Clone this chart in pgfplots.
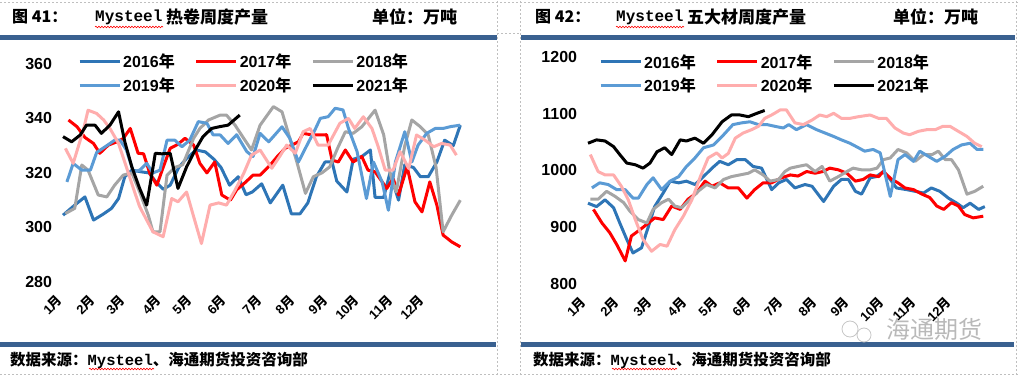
\documentclass[border=0pt]{standalone}
\usepackage{pgfplots}
\pgfplotsset{compat=1.18}
\usepackage{fontspec}
\setmainfont{Liberation Sans}
\newfontfamily\cjk{Noto Sans CJK SC}
\newfontfamily\monob{Liberation Mono}
\usetikzlibrary{decorations.pathmorphing}
\definecolor{c16}{HTML}{2E75B6}
\definecolor{c17}{HTML}{FF0000}
\definecolor{c18}{HTML}{A5A5A5}
\definecolor{c19}{HTML}{5B9BD5}
\definecolor{c20}{HTML}{FFADAD}
\definecolor{c21}{HTML}{000000}
\definecolor{barblue}{HTML}{3A6190}
\definecolor{gridgray}{HTML}{BFBFBF}
\pgfplotsset{
  ser/.style={line width=3pt, line join=round, no markers},
  chartbase/.style={
    scale only axis,
    axis line style={draw=none}, tick style={draw=none},
    clip=false,
    yticklabel style={font=\bfseries\fontsize{16}{18}\selectfont, anchor=east, inner sep=0pt, xshift=-3pt},
    xticklabel style={font=\bfseries\fontsize{13}{15}\selectfont, xshift=-2pt, yshift=-16pt, rotate=45, anchor=east, inner sep=0pt},
    legend columns=3,
    legend cell align=left,
    legend image code/.code={\draw[##1, line width=3pt] (0pt,0pt) -- (40pt,0pt);},
    legend style={draw=none, fill=none, anchor=north west, inner sep=0pt,
      font=\bfseries\fontsize{16}{18}\selectfont,
      row sep=4pt,
      nodes={inner sep=2pt},
      /tikz/every even column/.append style={column sep=18pt}},
  }
}
\begin{document}
\begin{tikzpicture}
% grid borders
\begin{scope}[gridgray, line width=0.6pt, dash pattern=on 2pt off 2pt]
\draw (0pt,373pt) -- (1019pt,373pt);
\draw (497pt,0pt) -- (497pt,375pt);
\draw (520pt,0pt) -- (520pt,375pt);
\draw (1016pt,0pt) -- (1016pt,375pt);
\draw (497pt,342pt) -- (520pt,342pt);
\draw (0pt,1pt) -- (1019pt,1pt);
\end{scope}
% header bars
\fill[barblue] (0pt,335pt) rectangle (497pt,340pt);
\fill[barblue] (521pt,335pt) rectangle (1015pt,340pt);
\fill[barblue] (0pt,28pt) rectangle (496pt,33pt);
\fill[barblue] (521pt,28pt) rectangle (1014pt,33pt);
% titles
\node[anchor=west, inner sep=0pt, font=\cjk\bfseries\fontsize{16}{18}\selectfont] at (12pt,358pt) {图 41：};
\node[anchor=west, inner sep=0pt, font=\monob\bfseries\fontsize{16}{18}\selectfont] at (95pt,358pt) {Mysteel};
\node[anchor=west, inner sep=0pt, font=\cjk\bfseries\fontsize{17}{18}\selectfont] at (166pt,358pt) {热卷周度产量};
\node[anchor=west, inner sep=0pt, font=\cjk\bfseries\fontsize{17}{18}\selectfont] at (372pt,358pt) {单位：万吨};
\node[anchor=west, inner sep=0pt, font=\cjk\bfseries\fontsize{16}{18}\selectfont] at (535pt,358pt) {图 42：};
\node[anchor=west, inner sep=0pt, font=\monob\bfseries\fontsize{16}{18}\selectfont] at (616pt,358pt) {Mysteel};
\node[anchor=west, inner sep=0pt, font=\cjk\bfseries\fontsize{17}{18}\selectfont] at (687pt,358pt) {五大材周度产量};
\node[anchor=west, inner sep=0pt, font=\cjk\bfseries\fontsize{17}{18}\selectfont] at (893pt,358pt) {单位：万吨};
\draw[red, line width=0.6pt, decorate, decoration={snake, amplitude=0.8pt, segment length=3pt}] (95pt,348pt) -- (163pt,348pt);
\draw[red, line width=0.6pt, decorate, decoration={snake, amplitude=0.8pt, segment length=3pt}] (616pt,348pt) -- (684pt,348pt);
% footers
\node[anchor=west, inner sep=0pt, font=\bfseries\fontsize{15.5}{17}\selectfont] at (10pt,15pt) {{\cjk 数据来源：}{\monob Mysteel}{\cjk 、海通期货投资咨询部}};
\node[anchor=west, inner sep=0pt, font=\bfseries\fontsize{15.5}{17}\selectfont] at (533pt,15pt) {{\cjk 数据来源：}{\monob Mysteel}{\cjk 、海通期货投资咨询部}};
\draw[red, line width=0.6pt, decorate, decoration={snake, amplitude=0.8pt, segment length=3pt}] (89pt,6pt) -- (154pt,6pt);
\draw[red, line width=0.6pt, decorate, decoration={snake, amplitude=0.8pt, segment length=3pt}] (612pt,6pt) -- (677pt,6pt);
% watermark
\draw[gray!45, line width=0.8pt] (850pt,46pt) circle (8pt);
\draw[gray!45, line width=0.8pt] (864pt,40pt) circle (7pt);
\node[anchor=west, inner sep=0pt, text=gray!55, font=\cjk\fontsize{24}{26}\selectfont] at (886pt,46pt) {海通期货};

% LEFT CHART
\begin{axis}[chartbase,
  at={(55.2pt,93pt)}, anchor=south west,
  width=414.5pt, height=218.2pt,
  xmin=-1, xmax=52, ymin=280, ymax=360,
  ytick={280,300,320,340,360}, yticklabels={280,300,320,340,360},
  xtick={-0.13,4.09,7.93,12.53,16.37,20.84,25.32,29.54,33.76,37.85,42.07,46.16},
  xticklabels={1{\cjk 月},2{\cjk 月},3{\cjk 月},4{\cjk 月},5{\cjk 月},6{\cjk 月},7{\cjk 月},8{\cjk 月},9{\cjk 月},10{\cjk 月},11{\cjk 月},12{\cjk 月}},
  legend style={at={(0.055,1.054)}},
]
\addplot[ser, c16] coordinates {(0,304.5) (1.5,308.2) (2.8,311.2) (3.9,302.7) (5.2,305) (6.2,307) (7.1,310.6) (7.9,318.6) (8.8,321) (10,320.4) (11,320) (11.8,317) (12.8,314) (13.7,315.5) (14.8,322) (15.8,325.3) (17,328.4) (18.2,327.7) (19.3,325) (20.2,322) (21.3,315.5) (22.4,318.6) (23.4,312) (24.2,313) (25.4,316) (26.5,309) (28.1,315.5) (29.2,305) (30.3,305) (31.3,309) (32.4,318.6) (33.5,324) (34.4,324) (35,317) (36.3,313) (37.1,325) (38.2,326) (39.3,328.4) (39.9,311) (41,311) (41.8,320) (42.9,310) (43.7,323) (44.8,322) (45.7,318.6) (46.7,318.6) (47.8,324) (48.8,332) (49.9,330) (50.8,337.5)};
\addlegendentry{2016{\cjk 年}}
\addplot[ser, c17] coordinates {(0.7,339.4) (1.8,336.9) (2.8,333) (3.9,330.8) (4.7,327.2) (5.8,330.2) (6.9,331.4) (7.7,332.6) (8.6,336.3) (9.6,327.2) (10.3,327) (11.1,319.8) (12,315.5) (12.8,322) (13.7,329) (14.7,330.5) (15.6,332.7) (16.7,330.2) (17.5,323.5) (18.4,320) (19.4,324) (20.3,311.9) (21.4,310) (22.2,313.8) (23.3,316.5) (24.3,319.2) (25.2,319.2) (26.5,322.9) (27.4,326) (28.4,329) (30.1,331.4) (30.7,334.5) (31.7,334) (32.6,333.9) (33.7,334) (34.4,324.7) (35.2,324) (36.1,328.4) (37.1,324) (38.2,326) (39,321) (39.9,320.4) (41.4,314.3) (42.2,318) (42.9,311.9) (44,322.2) (45,309.4) (45.9,305.7) (46.9,316.7) (47.8,308.2) (48.6,297.2) (49.7,294.7) (50.8,292.9)};
\addlegendentry{2017{\cjk 年}}
\addplot[ser, c18] coordinates {(0.3,305.1) (1.5,307) (2.4,322.9) (3.2,321) (4.5,311.9) (5.6,311.2) (6.6,315.5) (7.7,319.2) (8.8,320) (9.8,313) (10.9,304.5) (11.5,298.4) (12.4,298.4) (13.3,319.2) (14.3,322) (15.3,323) (16.7,332.7) (17.5,336.3) (18.6,339.4) (20.1,341.2) (20.9,341.2) (22,337.5) (23.1,332.7) (24.1,328.4) (25.2,337.5) (26.9,344.3) (28,342.4) (29.9,324) (31,312.5) (32,318.6) (33.1,320) (34.1,322.2) (35.1,329) (36.1,335.1) (37.1,334.5) (38.2,336.9) (39.9,343) (41,334) (41.8,320) (42.6,313) (43.7,330) (44.6,339.4) (45.7,336.9) (46.7,333.9) (47.7,322) (48.6,298.4) (49.7,304.5) (50.8,310)};
\addlegendentry{2018{\cjk 年}}
\addplot[ser, c19] coordinates {(0.5,316.7) (1.3,323.5) (2.4,321) (3.5,321) (4.3,327.5) (5.6,330) (6.6,332) (7.3,332) (8.1,328.4) (9,320.4) (9.8,321) (10.7,323.5) (11.5,320) (12.4,321) (13.3,332) (14.3,332) (15.2,329.6) (16.2,332) (17.3,338.8) (18.4,338.2) (19.2,333.9) (20.1,333.9) (21.1,330.8) (22.2,334) (23.5,327.8) (24.3,326) (25.2,334.5) (26.3,331.4) (28,336.9) (29,332.7) (30.1,324) (31.2,330.2) (32.2,335.7) (32.9,340) (33.9,340.6) (34.8,343.7) (35.8,343.1) (36.5,336.3) (37.6,327.8) (38.8,310.6) (39.7,324) (40.8,316.7) (41.6,306.3) (42.5,324) (43.7,335.1) (44.6,324) (45.4,330.2) (46.5,334.5) (47.6,336.3) (48.6,336.3) (49.6,337) (50.8,337.5)};
\addlegendentry{2019{\cjk 年}}
\addplot[ser, c20] coordinates {(0.3,329) (1.3,323.5) (2.6,335.7) (3.2,343) (4.3,341.8) (5.2,339.4) (6,336.3) (7.1,330.8) (8.1,322.2) (9,314.3) (9.8,307.6) (10.7,302.7) (11.5,298.4) (12.8,296.6) (13.9,310.6) (14.7,309.4) (15.8,313) (16.9,302) (17.7,294.1) (18.8,308.2) (19.9,309) (20.9,308.2) (22,313.7) (23.1,319.8) (24.1,326.5) (25.2,328.4) (26.7,321.7) (27.7,326) (28.6,330.2) (29.7,327.2) (30.7,335.1) (31.6,336.3) (32.6,330.2) (33.9,330.2) (35.4,338.2) (36.5,340) (37.3,336.3) (38.4,340.6) (39.5,336.3) (40.3,329.6) (41.2,321) (42.2,321) (43.1,327.8) (44.2,321.6) (45.2,333.9) (46.3,332) (47.4,329.6) (48.4,330.8) (49.5,330.2) (50.3,326.5)};
\addlegendentry{2020{\cjk 年}}
\addplot[ser, c21] coordinates {(0,333.3) (1.1,331.4) (2.2,333.9) (3,337.5) (4.1,337.5) (4.9,334.5) (6,337.5) (7.1,342.4) (7.9,331.4) (8.8,322.2) (9.8,314.3) (10.7,308.2) (11.8,327.2) (12.6,327) (13.7,327.2) (14.7,314.3) (15.8,322.2) (16.9,328.4) (17.9,333.3) (19,336.3) (20.1,337) (21.1,337.5) (22.6,341.2)};
\addlegendentry{2021{\cjk 年}}
\end{axis}

% RIGHT CHART
\begin{axis}[chartbase,
  at={(580.25pt,91.5pt)}, anchor=south west,
  width=410.75pt, height=226.2pt,
  xmin=-1, xmax=52, ymin=800, ymax=1200,
  ytick={800,900,1000,1100,1200}, yticklabels={800,900,1000,1100,1200},
  xtick={-0.3,4,8.26,12.65,16.65,21.03,25.16,29.55,33.68,38.19,42.32,46.84},
  xticklabels={1{\cjk 月},2{\cjk 月},3{\cjk 月},4{\cjk 月},5{\cjk 月},6{\cjk 月},7{\cjk 月},8{\cjk 月},9{\cjk 月},10{\cjk 月},11{\cjk 月},12{\cjk 月}},
  legend style={at={(0.0456,1.023)}},
]
\addplot[ser, c16] coordinates {(0,942) (1.1,936) (2.2,948) (3.3,934) (4.1,907) (5,878) (5.8,854) (6.9,863) (7.8,901) (8.6,936) (9.7,960) (10.6,981) (11.7,978) (12.7,981) (13.8,975) (14.9,989) (16,1004) (17,1016) (18.1,1010) (19.2,1019) (20.3,1019) (21.3,1007) (22.4,1004) (23.7,966) (24.6,978) (25.6,984) (26.7,969) (28,975) (28.9,972) (30.4,945) (31.7,972) (32.7,984) (33.6,984) (34.5,963) (35.3,958) (36.4,987) (37.2,989) (38.1,998) (39,984) (39.8,969) (41.1,966) (42.2,963) (43.3,960) (44.3,969) (45.4,963) (46.5,951) (47.6,942) (48.4,934) (49.3,942) (50.4,931) (51.2,936)};
\addlegendentry{2016{\cjk 年}}
\addplot[ser, c17] coordinates {(0.7,931) (1.8,907) (2.8,890) (3.7,869) (4.8,840) (5.6,884) (6.7,895) (7.8,907) (8.6,916) (9.7,913) (10.8,937) (11.9,931) (12.9,949) (14,960) (15.1,981) (16,972) (17,978) (18.1,969) (19.4,969) (20.5,951) (21.5,966) (22.6,978) (23.7,978) (24.8,986) (26.1,992) (27.1,990) (28.2,998) (29.3,995) (30.3,998) (31.2,1004) (32.3,1001) (33.4,995) (34.5,981) (35.5,984) (36.4,992) (37.5,989) (38.1,998) (39.2,984) (40,978) (40.9,969) (42,966) (43.1,958) (44.1,952) (45,937) (45.9,931) (46.9,943) (47.8,937) (48.6,922) (49.7,916) (51,919)};
\addlegendentry{2017{\cjk 年}}
\addplot[ser, c18] coordinates {(0.3,949) (1.3,949) (2.4,963) (3.5,954) (4.6,943) (5.4,928) (6.5,913) (7.6,907) (8.4,931) (9.5,943) (10.4,949) (11.2,937) (12.1,934) (13.2,949) (14.2,963) (15.3,975) (16.4,969) (17.5,984) (18.5,989) (19.6,992) (20.7,995) (21.5,1001) (22.6,992) (23.5,981) (24.6,984) (25.4,998) (26.1,1004) (27.1,1007) (28.2,1010) (29.3,998) (30.2,1007) (31.2,981) (32.3,989) (33.4,998) (34.2,1004) (35.3,1001) (36.4,1001) (37.3,1004) (38.1,1019) (39,1022) (40,1037) (41.1,1031) (42.2,1016) (43.3,1028) (44.4,1028) (45.2,1034) (46.1,1019) (46.9,1019) (47.8,1001) (48.9,958) (49.9,963) (51,972)};
\addlegendentry{2018{\cjk 年}}
\addplot[ser, c19] coordinates {(0.5,969) (1.5,978) (2.6,975) (3.7,966) (4.8,966) (5.8,951) (6.5,951) (7.6,975) (8.4,987) (9.5,966) (10.6,981) (11.7,989) (12.7,1007) (13.8,1022) (14.9,1040) (16.2,1045) (17.5,1063) (18.7,1081) (19.8,1084) (20.9,1086) (22,1081) (23.1,1081) (24.1,1078) (25.2,1075) (25.9,1081) (26.9,1072) (28.2,1081) (29.5,1072) (30.6,1066) (31.7,1060) (32.7,1054) (33.8,1048) (34.9,1040) (35.7,1034) (36.8,1037) (37.7,1031) (39,954) (40,1019) (40.9,1028) (42,1016) (42.8,1034) (43.9,1025) (45,1016) (46.1,1025) (47.1,1037) (48.2,1045) (49.3,1048) (50.2,1037) (51,1037)};
\addlegendentry{2019{\cjk 年}}
\addplot[ser, c20] coordinates {(0.3,1028) (1.3,998) (2.2,992) (3.3,992) (4.3,972) (5.2,948) (6.1,913) (7.1,878) (8.2,857) (9.3,869) (10.2,866) (11.2,895) (12.3,919) (13.4,948) (14.5,989) (15.5,1022) (16.6,1031) (17.3,1022) (18.1,1030) (19,1057) (20,1066) (21.1,1072) (22,1078) (22.8,1092) (23.7,1098) (24.8,1107) (25.6,1107) (26.7,1084) (27.8,1081) (28.9,1089) (29.9,1098) (30.8,1095) (31.7,1101) (32.7,1092) (33.8,1092) (34.9,1095) (36.4,1098) (37.5,1092) (38.5,1092) (39.6,1075) (40.7,1066) (41.5,1063) (42.6,1069) (43.7,1072) (44.8,1072) (45.8,1078) (46.7,1078) (47.8,1069) (48.9,1060) (49.9,1048) (50.8,1042)};
\addlegendentry{2020{\cjk 年}}
\addplot[ser, c21] coordinates {(0,1048) (1.1,1054) (2.2,1052) (3.3,1042) (4.1,1028) (5,1013) (6.1,1010) (7.1,1004) (8,1013) (8.9,1033) (9.9,1040) (10.8,1028) (11.9,1054) (12.7,1052) (13.8,1057) (14.9,1048) (16,1063) (17.3,1086) (18.5,1098) (19.6,1098) (20.7,1095) (21.8,1101) (22.8,1106)};
\addlegendentry{2021{\cjk 年}}
\end{axis}
\pgfresetboundingbox
\path[use as bounding box] (0pt,0pt) rectangle (1019pt,375pt);
\end{tikzpicture}
\end{document}
